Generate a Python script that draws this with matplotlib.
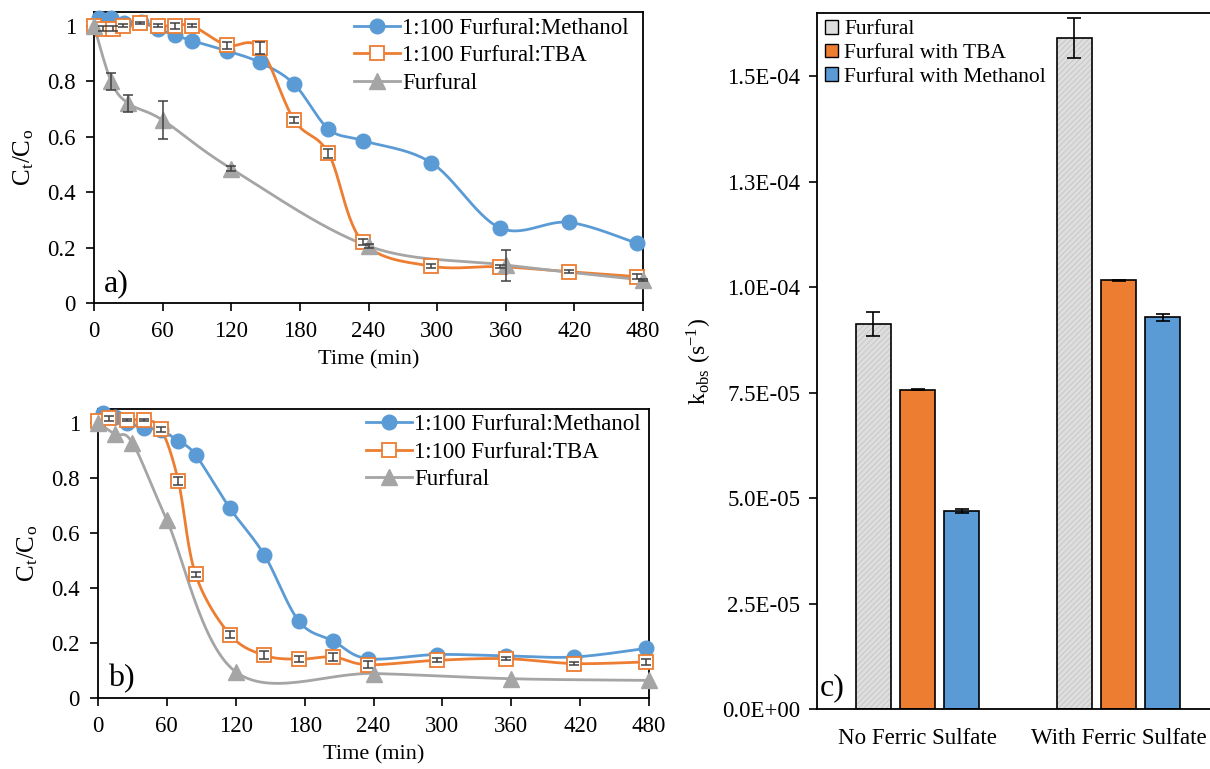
import numpy as np
import matplotlib
matplotlib.use("Agg")
import matplotlib.pyplot as plt
from matplotlib.patches import Patch
from matplotlib.lines import Line2D

plt.rcParams['font.family'] = ['Liberation Serif', 'DejaVu Serif']
plt.rcParams['mathtext.fontset'] = 'stix'
plt.rcParams['hatch.linewidth'] = 0.6

# ---------------- data: panel a ----------------
a_meth_t = [4, 15, 26, 41, 56, 71, 86, 116, 145, 175, 205, 235, 295, 355, 415, 475]
a_meth_y = [1.03, 1.03, 1.012, 1.014, 0.988, 0.966, 0.946, 0.91, 0.868, 0.79, 0.628, 0.586, 0.506, 0.271, 0.291, 0.215]
a_meth_e = [0.0] * 16
a_tba_t = [0, 8, 17, 25, 40, 56, 71, 86, 116, 145, 175, 205, 235, 295, 355, 415, 475]
a_tba_y = [1.0, 0.99, 0.99, 1.0, 1.01, 1.0, 1.0, 1.0, 0.93, 0.92, 0.66, 0.54, 0.22, 0.133, 0.131, 0.113, 0.095]
a_tba_e = [0, 0.01, 0.01, 0.005, 0.005, 0.005, 0.01, 0.005, 0.012, 0.02, 0.01, 0.015, 0.012, 0.008, 0.005, 0.005, 0.01]
a_fur_t = [0, 15, 30, 60, 120, 240, 360, 480]
a_fur_y = [1.0, 0.80, 0.72, 0.66, 0.485, 0.205, 0.137, 0.083]
a_fur_e = [0, 0.031, 0.032, 0.07, 0.008, 0.008, 0.056, 0.005]

# ---------------- data: panel b ----------------
b_meth_t = [4, 15, 25, 40, 55, 70, 85, 115, 145, 175, 205, 235, 295, 355, 415, 477]
b_meth_y = [1.034, 1.022, 1.0, 0.982, 0.973, 0.933, 0.883, 0.689, 0.519, 0.279, 0.207, 0.143, 0.158, 0.153, 0.149, 0.18]
b_meth_e = [0.0] * 16
b_tba_t = [0, 10, 25, 40, 55, 70, 85, 115, 145, 175, 205, 235, 295, 355, 415, 477]
b_tba_y = [1.006, 1.016, 1.01, 1.01, 0.976, 0.788, 0.449, 0.23, 0.155, 0.141, 0.149, 0.121, 0.137, 0.143, 0.125, 0.131]
b_tba_e = [0, 0.01, 0.005, 0.005, 0.01, 0.015, 0.01, 0.012, 0.015, 0.01, 0.015, 0.012, 0.008, 0.005, 0.005, 0.01]
b_fur_t = [0, 15, 30, 60, 120, 240, 360, 480]
b_fur_y = [1.0, 0.958, 0.927, 0.646, 0.095, 0.089, 0.07, 0.064]
b_fur_e = [0, 0, 0, 0, 0, 0, 0, 0]

series_labels = ['1:100 Furfural:Methanol', '1:100 Furfural:TBA', 'Furfural']
time_ticks = [0, 60, 120, 180, 240, 300, 360, 420, 480]
ratio_ticks = [0, 0.2, 0.4, 0.6, 0.8, 1]
ratio_ticklabels = ['0', '0.2', '0.4', '0.6', '0.8', '1']

# ---------------- data: panel c ----------------
c_groups = ['No Ferric Sulfate', 'With Ferric Sulfate']
c_labels = ['Furfural', 'Furfural with TBA', 'Furfural with Methanol']
c_fur = [9.12e-5, 1.590e-4]
c_fur_e = [2.8e-6, 4.7e-6]
c_tba = [7.57e-5, 1.016e-4]
c_tba_e = [1.5e-7, 1.5e-7]
c_meth = [4.69e-5, 9.29e-5]
c_meth_e = [5e-7, 8.5e-7]
c_ticks = [0, 2.5e-5, 5.0e-5, 7.5e-5, 1.0e-4, 1.25e-4, 1.5e-4]
c_ticklabels = ['0.0E+00', '2.5E-05', '5.0E-05', '7.5E-05', '1.0E-04', '1.3E-04', '1.5E-04']

BLUE = '#5B9BD5'
ORANGE = '#ED7D31'
GREY = '#A5A5A5'
LIGHT = '#DEDEDE'

W, H = 1210, 769
fig = plt.figure(figsize=(W / 100, H / 100), dpi=100)


def px_axes(l, r, t, b):
    return fig.add_axes([l / W, 1 - b / H, (r - l) / W, (b - t) / H])


def smooth_line(ax, x, y, color, lw=2.0, n=30):
    pts = ax.transData.transform(np.column_stack([x, y]))
    P = np.vstack([pts[0], pts, pts[-1]])
    out = []
    for i in range(1, len(P) - 2):
        p0, p1, p2, p3 = P[i - 1], P[i], P[i + 1], P[i + 2]
        c1 = p1 + (p2 - p0) / 6.0
        c2 = p2 - (p3 - p1) / 6.0
        s = np.linspace(0, 1, n)[:, None]
        seg = ((1 - s) ** 3) * p1 + 3 * ((1 - s) ** 2) * s * c1 + 3 * (1 - s) * s ** 2 * c2 + s ** 3 * p2
        out.append(seg if i == 1 else seg[1:])
    curve = ax.transData.inverted().transform(np.vstack(out))
    ax.plot(curve[:, 0], curve[:, 1], color=color, lw=lw, solid_capstyle='round', zorder=2, clip_on=False)


def time_panel(ax, data, tag, leg_anchor):
    ax.set_xlim(0, 480)
    ax.set_ylim(0, 1.05)
    ax.set_xticks(time_ticks)
    ax.set_yticks(ratio_ticks)
    ax.set_yticklabels(ratio_ticklabels)
    ax.tick_params(direction='out', length=6, width=1.2, labelsize=16.5, pad=7)
    for s in ax.spines.values():
        s.set_linewidth(1.3)
    ax.set_xlabel('Time (min)', fontsize=16, labelpad=6)
    ax.set_ylabel('C$_\\mathregular{t}$/C$_\\mathregular{o}$', fontsize=18, labelpad=8)
    styles = [dict(color=BLUE, marker='o', ms=10.5, mfc=BLUE, mec=BLUE),
              dict(color=ORANGE, marker='s', ms=10, mfc='white', mec=ORANGE, mew=1.3),
              dict(color=GREY, marker='^', ms=11, mfc=GREY, mec=GREY)]
    handles = []
    for (t, y, e), st, lab in zip(data, styles, series_labels):
        smooth_line(ax, t, y, st['color'])
        ax.plot(t, y, linestyle='none', marker=st['marker'], ms=st['ms'], mfc=st['mfc'],
                mec=st['mec'], mew=st.get('mew', 1.0), zorder=3, clip_on=False)
        e = np.asarray(e)
        m = e > 0
        if m.any():
            ax.errorbar(np.asarray(t)[m], np.asarray(y)[m], yerr=e[m], fmt='none', ecolor='#404040',
                        elinewidth=1.1, capsize=3.5, capthick=1.1, zorder=4, clip_on=False)
        handles.append(Line2D([], [], color=st['color'], lw=2, marker=st['marker'], ms=st['ms'],
                              mfc=st['mfc'], mec=st['mec'], mew=st.get('mew', 1.0)))
    ax.legend(handles, series_labels, loc='upper left', bbox_to_anchor=leg_anchor, frameon=False,
              fontsize=16.5, handlelength=2.0, handletextpad=0.1, labelspacing=0.28, borderpad=0,
              borderaxespad=0)
    ax.text(0.018, 0.015, tag, transform=ax.transAxes, fontsize=23, ha='left', va='bottom')


ax_a = px_axes(94, 643, 12, 303)
time_panel(ax_a, [(a_meth_t, a_meth_y, a_meth_e), (a_tba_t, a_tba_y, a_tba_e),
                  (a_fur_t, a_fur_y, a_fur_e)], 'a)', (0.473, 0.98))

ax_b = px_axes(98, 649, 409, 698)
time_panel(ax_b, [(b_meth_t, b_meth_y, b_meth_e), (b_tba_t, b_tba_y, b_tba_e),
                  (b_fur_t, b_fur_y, b_fur_e)], 'b)', (0.486, 0.982))

# ---------------- panel c ----------------
ax_c = px_axes(817, 1219, 13, 709)
xc = np.arange(len(c_groups))
bw = 0.175
off = 0.22
ax_c.bar(xc - off, c_fur, bw, color=LIGHT, edgecolor='#C4C4C4', lw=0,
         hatch='//////', zorder=2)
ax_c.bar(xc - off, c_fur, bw, yerr=c_fur_e, color='none', edgecolor='black', lw=1.2,
         capsize=5, error_kw=dict(elinewidth=1.2, capthick=1.2, zorder=4), zorder=3)
ax_c.bar(xc, c_tba, bw, yerr=c_tba_e, color=ORANGE, edgecolor='black', lw=1.2,
         capsize=5, error_kw=dict(elinewidth=1.2, capthick=1.2), zorder=2)
ax_c.bar(xc + off, c_meth, bw, yerr=c_meth_e, color=BLUE, edgecolor='black', lw=1.2,
         capsize=5, error_kw=dict(elinewidth=1.2, capthick=1.2), zorder=2)
ax_c.set_xlim(-0.5, 1.5)
ax_c.set_ylim(0, 1.65e-4)
ax_c.set_yticks(c_ticks)
ax_c.set_yticklabels(c_ticklabels)
ax_c.set_xticks(xc)
ax_c.set_xticklabels(c_groups)
ax_c.tick_params(axis='y', direction='out', length=6, width=1.2, labelsize=16.5, pad=6)
ax_c.tick_params(axis='x', length=0, labelsize=16.5, pad=14)
for s in ax_c.spines.values():
    s.set_linewidth(1.3)
ax_c.set_ylabel('k$_\\mathregular{obs}$ (s$^\\mathregular{-1}$)', fontsize=17, labelpad=6)
leg_handles = [Patch(facecolor=LIGHT, edgecolor='black'),
               Patch(facecolor=ORANGE, edgecolor='black'),
               Patch(facecolor=BLUE, edgecolor='black')]
ax_c.legend(leg_handles, c_labels, loc='upper left', bbox_to_anchor=(0.02, 0.99), frameon=False,
            fontsize=15.5, handlelength=0.6, handleheight=0.6, handletextpad=0.3, labelspacing=0.2,
            borderpad=0, borderaxespad=0)
ax_c.text(0.008, 0.01, 'c)', transform=ax_c.transAxes, fontsize=23, ha='left', va='bottom')

fig.savefig('out.png', dpi=100)
